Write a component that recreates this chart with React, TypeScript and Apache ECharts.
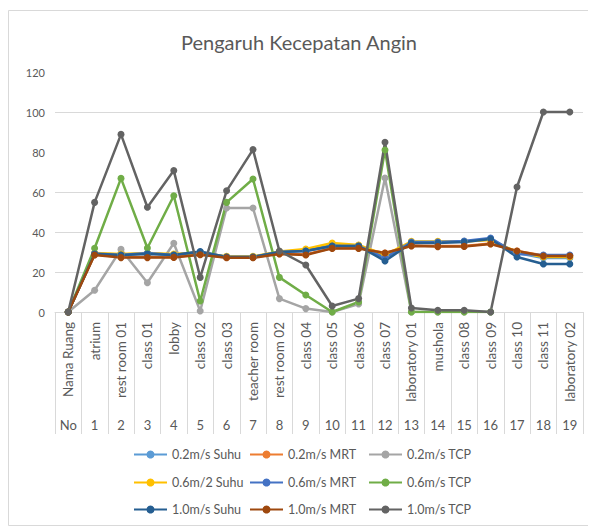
import React, { useEffect, useRef } from "react";
import * as echarts from "echarts";

const roomNames = [
  "Nama Ruang", "atrium", "rest room 01", "class 01", "lobby", "class 02", "class 03",
  "teacher room", "rest room 02", "class 04", "class 05", "class 06", "class 07",
  "laboratory 01", "mushola", "class 08", "class 09", "class 10", "class 11", "laboratory 02",
];
const roomNumbers = ["No", "1", "2", "3", "4", "5", "6", "7", "8", "9", "10", "11", "12", "13", "14", "15", "16", "17", "18", "19"];

const yTicks = [0, 20, 40, 60, 80, 100, 120];

const suhu02 = [0, 29.3, 28.7, 29.3, 28.7, 30, 27.6, 27.6, 30, 31, 33.8, 33.3, 28, 35, 35, 35.2, 36.3, 29.5, 27, 27];
const mrt02 = [0, 28.7, 27.5, 27.5, 27.5, 28.8, 27.3, 27.3, 29.2, 28.8, 32, 32, 29.5, 33.2, 33, 33, 34.2, 30.5, 28.2, 28.2];
const tcp02 = [0, 10.9, 31.3, 14.6, 34.4, 0.5, 52, 52, 6.7, 1.7, 0, 4, 67, 0, 0, 0, 0, null, null, null];
const suhu06 = [0, 29.5, 29, 29.5, 29, 29.8, 27.8, 27.8, 30.2, 31.5, 34.5, 33.5, 28.5, 35.3, 35.3, 35.3, 36, 30, 27.5, 27.5];
const mrt06 = [0, 29.2, 28.5, 29.5, 28.5, 30, 27.5, 27.5, 30, 30.5, 33, 33, 27, 35, 35, 35.5, 37, 29, 28.5, 28.5];
const tcp06 = [0, 31.9, 66.8, 32, 58.1, 5.5, 54.8, 66.5, 17.3, 8.5, 0, 5, 81, 0, 0, 0, 0, null, null, null];
const suhu10 = [0, 29, 28.5, 29, 28.5, 30.2, 27.5, 27.5, 30, 30.5, 33, 33, 25.5, 34.5, 34.5, 35, 36.5, 27.5, 24, 24];
const mrt10 = [0, 28.5, 27.2, 27.2, 27.3, 28.6, 27.1, 27.1, 29, 28.5, 31.8, 31.8, 29.5, 33, 32.7, 32.8, 34, 30.5, 28, 28];
const tcp10 = [0, 54.8, 88.8, 52.4, 70.7, 17.3, 60.6, 81.2, 30.5, 23.5, 3, 6.7, 84.9, 2, 0.9, 0.9, 0, 62.5, 100, 100];

const seriesDefs = [
  { name: "0.2m/s Suhu", data: suhu02, color: "#5B9BD5" },
  { name: "0.2m/s MRT", data: mrt02, color: "#ED7D31" },
  { name: "0.2m/s TCP", data: tcp02, color: "#A5A5A5" },
  { name: "0.6m/2 Suhu", data: suhu06, color: "#FFC000" },
  { name: "0.6m/s MRT", data: mrt06, color: "#4472C4" },
  { name: "0.6m/s TCP", data: tcp06, color: "#70AD47" },
  { name: "1.0m/s Suhu", data: suhu10, color: "#255E91" },
  { name: "1.0m/s MRT", data: mrt10, color: "#9E480E" },
  { name: "1.0m/s TCP", data: tcp10, color: "#636363" },
];

const FONT = "Lato, 'Open Sans', sans-serif";
const TEXT = "#595959";
const GRID = "#d9d9d9";

export default function App() {
  const ref = useRef<HTMLDivElement>(null);
  useEffect(() => {
    if (!ref.current) return;
    const chart = echarts.init(ref.current, undefined, { renderer: "svg" });
    const colLefts = [125, 241, 360];
    const rowTops = [440, 468, 495];
    const legends = seriesDefs.map((s, i) => ({
      left: colLefts[i % 3],
      top: rowTops[Math.floor(i / 3)],
      itemWidth: 33,
      itemHeight: 10,
      padding: 0,
      textStyle: { color: TEXT, fontSize: 12.5, fontFamily: FONT },
      data: [s.name],
    }));
    chart.setOption({
      animation: false,
      backgroundColor: "#fff",
      title: {
        text: "Pengaruh Kecepatan Angin",
        left: "center",
        top: 19,
        textStyle: { color: TEXT, fontSize: 20, fontWeight: "normal", fontFamily: FONT },
      },
      graphic: [
        {
          type: "rect",
          shape: { x: 0.5, y: 2.5, width: 581, height: 515 },
          style: { fill: "none", stroke: GRID, lineWidth: 1 },
          silent: true,
        },
      ],
      legend: legends,
      grid: { left: 47, right: 7, top: 64, height: 240 },
      xAxis: [
        {
          type: "category",
          data: roomNames,
          position: "bottom",
          boundaryGap: true,
          axisLine: { show: true, lineStyle: { color: GRID, width: 1 } },
          axisTick: { show: true, length: 122, lineStyle: { color: GRID } },
          axisLabel: {
            rotate: 90,
            margin: 10,
            interval: 0,
            color: TEXT,
            fontSize: 13.5,
            fontFamily: FONT,
          },
          splitLine: { show: false },
        },
        {
          type: "category",
          data: roomNumbers,
          position: "bottom",
          offset: 100,
          boundaryGap: true,
          axisLine: { show: false },
          axisTick: { show: false },
          axisLabel: { margin: 6, interval: 0, color: TEXT, fontSize: 13, fontFamily: FONT },
        },
      ],
      yAxis: {
        type: "value",
        min: yTicks[0],
        max: yTicks[yTicks.length - 1],
        interval: 20,
        axisLine: { show: false },
        axisTick: { show: false },
        axisLabel: { color: TEXT, fontSize: 11, fontFamily: FONT, margin: 10 },
        splitLine: {
          show: true,
          lineStyle: {
            color: [GRID, GRID, GRID, GRID, "rgba(0,0,0,0)", GRID, "rgba(0,0,0,0)"],
            width: 1,
          },
        },
      },
      series: seriesDefs.map((s) => ({
        name: s.name,
        type: "line",
        xAxisIndex: 0,
        data: s.data,
        symbol: "circle",
        symbolSize: 7,
        showSymbol: true,
        lineStyle: { color: s.color, width: 2.5 },
        itemStyle: { color: s.color },
        emphasis: { disabled: true },
      })),
    });
    return () => chart.dispose();
  }, []);
  return <div ref={ref} style={{ width: 582, height: 518 }} />;
}
